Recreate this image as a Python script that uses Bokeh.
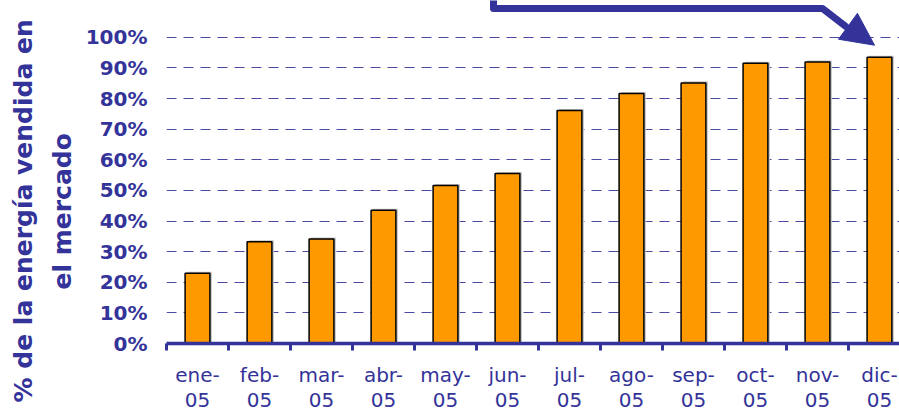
from bokeh.plotting import figure
from bokeh.models import Range1d, FixedTicker, LinearAxis, Title
from bokeh.embed import file_html
from bokeh.resources import INLINE

months = ["ene-\n05", "feb-\n05", "mar-\n05", "abr-\n05", "may-\n05", "jun-\n05",
          "jul-\n05", "ago-\n05", "sep-\n05", "oct-\n05", "nov-\n05", "dic-\n05"]
values = [22.9, 33.2, 34.1, 43.5, 51.6, 55.5, 76.1, 81.6, 85.1, 91.5, 91.9, 93.5]
y_ticks = [0, 10, 20, 30, 40, 50, 60, 70, 80, 90, 100]

BLUE = "#333399"
FONT = "DejaVu Sans"

n = len(months)
xc = [i + 0.5 for i in range(n)]

p = figure(width=899, height=414, output_backend="svg", toolbar_location=None, tools="",
           x_range=Range1d(0, 11.823), y_range=Range1d(0, 112.0),
           min_border_left=166, min_border_right=0, min_border_top=0, min_border_bottom=69)
p.outline_line_color = None
p.background_fill_color = "white"
p.border_fill_color = "white"

# grid
p.xgrid.visible = False
p.ygrid.ticker = FixedTicker(ticks=y_ticks)
p.ygrid.grid_line_color = "#4a4aa2"
p.ygrid.grid_line_dash = "10 7"
p.ygrid.grid_line_width = 1

# bars with light shadow
p.vbar(x=[v + 0.032 for v in xc], top=[v + 0.5 for v in values], width=0.4,
       fill_color="#c4c4c4", line_color=None)
p.vbar(x=xc, top=values, width=0.4, fill_color="#FF9900", line_color="black", line_width=1.5)

# y axis
ya = p.yaxis[0]
ya.ticker = FixedTicker(ticks=y_ticks)
ya.major_label_overrides = {t: f"{t}%" for t in y_ticks}
ya.axis_line_color = None
ya.major_tick_line_color = None
ya.minor_tick_line_color = None
ya.major_tick_out = 0
ya.major_tick_in = 0
ya.major_label_standoff = 19
ya.major_label_text_font = FONT
ya.major_label_text_font_style = "bold"
ya.major_label_text_font_size = "20px"
ya.major_label_text_color = BLUE

# x axis: boundary ticks
xa = p.xaxis[0]
xa.ticker = FixedTicker(ticks=list(range(n + 1)))
xa.major_label_overrides = {i: "" for i in range(n + 1)}
xa.major_label_text_font_size = "1px"
xa.major_label_standoff = 0
xa.axis_line_color = BLUE
xa.axis_line_width = 3.5
xa.major_tick_line_color = BLUE
xa.major_tick_line_width = 3
xa.major_tick_in = 0
xa.major_tick_out = 7
xa.minor_tick_line_color = None

# x axis: month labels at centres
xl = LinearAxis(ticker=FixedTicker(ticks=xc))
xl.major_label_overrides = {c: m for c, m in zip(xc, months)}
xl.axis_line_color = None
xl.major_tick_line_color = None
xl.minor_tick_line_color = None
xl.major_tick_out = 0
xl.major_tick_in = 0
xl.major_label_standoff = 12
xl.major_label_text_font = FONT
xl.major_label_text_font_size = "20px"
xl.major_label_text_color = BLUE
xl.major_label_text_line_height = 1.05
p.add_layout(xl, "below")

# y axis title (two lines) as left-side titles
t_inner = Title(text="el mercado", align="left", offset=54, standoff=11,
                text_font=FONT, text_font_style="bold", text_font_size="25px",
                text_color=BLUE)
t_outer = Title(text="% de la energía vendida en", align="left", offset=-59, standoff=6,
                text_font=FONT, text_font_style="bold", text_font_size="25px",
                text_color=BLUE)
p.add_layout(t_inner, "left")
p.add_layout(t_outer, "left")

# callout arrow pointing to the last bar
arrow_x = [5.274, 5.274, 10.581, 10.952]
arrow_y = [118.0, 109.4, 109.4, 103.6]
p.line(arrow_x, arrow_y, line_color=BLUE, line_width=7, line_join="round", line_cap="round")
p.patch([11.42, 10.839, 11.145], [97.4, 99.35, 107.8], fill_color=BLUE, line_color=BLUE,
        line_width=1)

open("out.html", "w").write(file_html(p, INLINE))
